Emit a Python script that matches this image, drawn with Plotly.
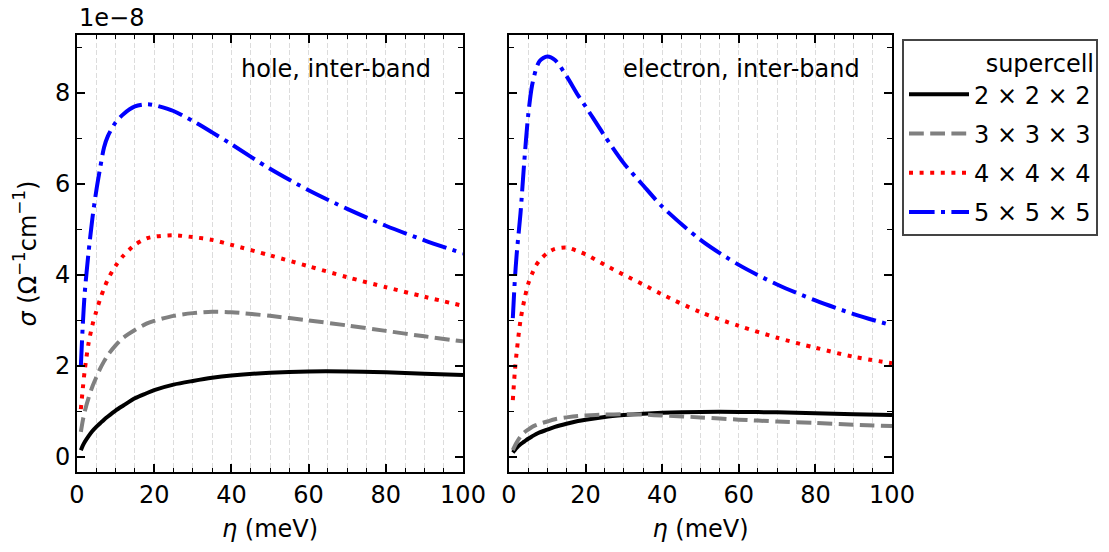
import plotly.graph_objects as go

# eta grid (meV)
eta = [1, 1.5, 2, 3, 4, 5, 6, 7, 8, 10, 12, 15, 18, 20, 25, 30, 35, 40, 50, 60, 70, 80, 90, 100]

# conductivity in units of 1e-8 Ohm^-1 cm^-1
hole_222 = [0.15, 0.25, 0.33, 0.46, 0.57, 0.66, 0.74, 0.82, 0.89, 1.02, 1.13, 1.29, 1.40, 1.47, 1.59, 1.67, 1.74, 1.79, 1.85, 1.88, 1.88, 1.86, 1.83, 1.80]
hole_333 = [0.55, 0.80, 1.00, 1.30, 1.55, 1.75, 1.94, 2.10, 2.24, 2.45, 2.62, 2.79, 2.93, 2.99, 3.10, 3.16, 3.19, 3.18, 3.10, 3.00, 2.89, 2.77, 2.65, 2.54]
hole_444 = [1.05, 1.50, 1.90, 2.50, 2.90, 3.20, 3.47, 3.70, 3.90, 4.20, 4.42, 4.66, 4.80, 4.84, 4.87, 4.83, 4.77, 4.66, 4.43, 4.19, 3.95, 3.73, 3.52, 3.32]
hole_555 = [2.00, 2.90, 3.60, 4.50, 5.25, 5.85, 6.35, 6.80, 7.05, 7.35, 7.53, 7.70, 7.75, 7.73, 7.60, 7.38, 7.13, 6.87, 6.33, 5.86, 5.45, 5.08, 4.76, 4.47]

elec_222 = [0.10, 0.15, 0.20, 0.28, 0.34, 0.40, 0.45, 0.50, 0.54, 0.60, 0.66, 0.73, 0.79, 0.82, 0.88, 0.92, 0.95, 0.97, 0.99, 0.99, 0.98, 0.96, 0.94, 0.92]
elec_333 = [0.15, 0.24, 0.32, 0.45, 0.54, 0.60, 0.66, 0.70, 0.73, 0.78, 0.83, 0.87, 0.90, 0.91, 0.93, 0.94, 0.93, 0.91, 0.87, 0.82, 0.78, 0.75, 0.71, 0.68]
elec_444 = [1.25, 1.85, 2.30, 3.00, 3.45, 3.80, 4.02, 4.20, 4.32, 4.48, 4.57, 4.60, 4.52, 4.45, 4.22, 4.00, 3.79, 3.57, 3.18, 2.88, 2.62, 2.40, 2.20, 2.06]
elec_555 = [3.05, 3.85, 4.45, 5.35, 6.50, 7.50, 8.15, 8.50, 8.70, 8.80, 8.72, 8.37, 7.95, 7.70, 7.05, 6.45, 5.97, 5.50, 4.77, 4.22, 3.79, 3.44, 3.14, 2.89]

series_names = ["2 × 2 × 2", "3 × 3 × 3", "4 × 4 × 4", "5 × 5 × 5"]
panel_titles = ["hole, inter-band", "electron, inter-band"]
x_ticks = [0, 20, 40, 60, 80, 100]
y_ticks = [0, 2, 4, 6, 8]

FONT = "DejaVu Sans, Liberation Sans, sans-serif"
FS = 24
LW = 4
styles = [
    dict(color="black", width=LW, dash="solid"),
    dict(color="gray", width=LW, dash="14.8px,6.4px"),
    dict(color="red", width=LW, dash="4px,6.6px"),
    dict(color="blue", width=LW, dash="25.6px,6.4px,4px,6.4px"),
]

fig = go.Figure()
panels = [(hole_222, hole_333, hole_444, hole_555), (elec_222, elec_333, elec_444, elec_555)]
for p, data in enumerate(panels):
    xa = "x" if p == 0 else "x2"
    ya = "y" if p == 0 else "y2"
    for i, vals in enumerate(data):
        fig.add_trace(go.Scatter(
            x=eta, y=vals, mode="lines", name=series_names[i],
            line=dict(shape="spline", smoothing=0.8, **styles[i]),
            xaxis=xa, yaxis=ya, showlegend=(p == 0), legendgroup=f"g{i}",
        ))

W, H = 1109, 552
ml, mr, mt, mb = 77, 217, 35, 80
pw = W - ml - mr
d1 = [0, (463 - ml) / pw]
d2 = [(509 - ml) / pw, 1]

axis_common = dict(
    showline=True, linecolor="black", linewidth=2, mirror="ticks",
    ticks="inside", ticklen=8, tickwidth=1.6, tickcolor="black",
    zeroline=False,
    tickfont=dict(family=FONT, size=FS, color="black"),
)
GRID = "#dcdcdc"
xcommon = dict(
    axis_common, range=[0, 100], tickvals=x_ticks,
    showgrid=True, gridcolor=GRID, griddash="5px,2.5px", gridwidth=1,
    minor=dict(dtick=5, ticks="inside", ticklen=4, tickwidth=1.3, tickcolor="black",
               showgrid=True, gridcolor=GRID, griddash="5px,2.5px", gridwidth=1),
    title=dict(text="<i>η</i> (meV)", font=dict(family=FONT, size=FS, color="black"), standoff=12),
)
ycommon = dict(
    axis_common, range=[-0.33, 9.27], tickvals=y_ticks, showgrid=False,
    minor=dict(dtick=1, ticks="inside", ticklen=5, tickwidth=1.3, tickcolor="black", showgrid=False),
)

fig.update_layout(
    width=W, height=H,
    margin=dict(l=ml, r=mr, t=mt, b=mb, autoexpand=False),
    paper_bgcolor="white", plot_bgcolor="white",
    font=dict(family=FONT, size=FS, color="black"),
    xaxis=dict(xcommon, domain=d1, anchor="y"),
    xaxis2=dict(xcommon, domain=d2, anchor="y2"),
    yaxis=dict(ycommon, anchor="x",
               title=dict(text="<i>σ</i> (Ω<sup>−1</sup>cm<sup>−1</sup>)",
                          font=dict(family=FONT, size=FS, color="black"), standoff=12)),
    yaxis2=dict(ycommon, anchor="x2", showticklabels=False),
    legend=dict(
        x=(902 - ml) / pw, xanchor="left", y=(472 - 39) / (H - mt - mb), yanchor="top",
        bgcolor="white", bordercolor="#444444", borderwidth=2,
        font=dict(family=FONT, size=FS, color="black"),
        title=dict(text="supercell", side="top right", font=dict(family=FONT, size=FS, color="black")),
        tracegroupgap=5, itemwidth=60,
    ),
    showlegend=True,
)

fig.add_annotation(text="1e−8", xref="paper", yref="paper", x=0, y=1, xanchor="left",
                   yanchor="bottom", yshift=1, showarrow=False,
                   font=dict(family=FONT, size=FS, color="black"))
for p, t in enumerate(panel_titles):
    xr = "x domain" if p == 0 else "x2 domain"
    yr = "y domain" if p == 0 else "y2 domain"
    fig.add_annotation(text=t, xref=xr, yref=yr, x=1, y=1, xanchor="right", yanchor="top",
                       xshift=-30, yshift=-18, showarrow=False,
                       font=dict(family=FONT, size=FS, color="black"))

fig.write_html("out.html")
